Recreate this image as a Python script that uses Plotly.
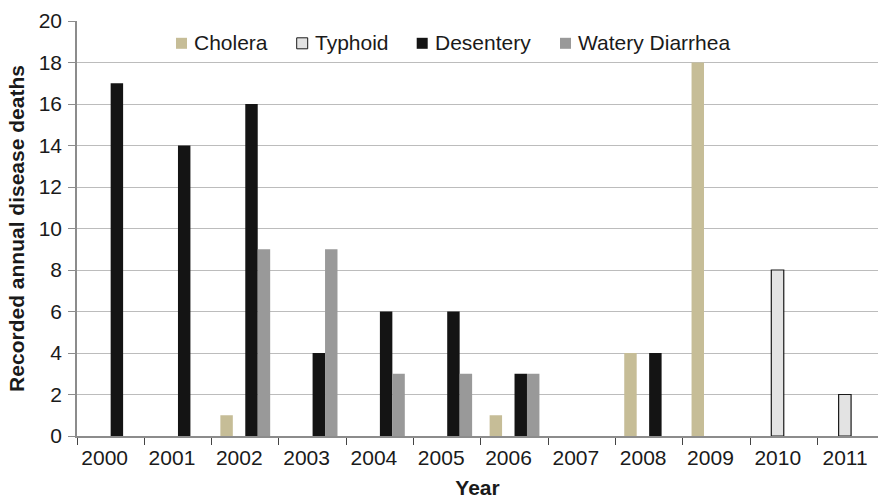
import plotly.graph_objects as go

years = ["2000", "2001", "2002", "2003", "2004", "2005",
         "2006", "2007", "2008", "2009", "2010", "2011"]
cholera = [None, None, 1, None, None, None, 1, None, 4, 18, None, None]
typhoid = [None, None, None, None, None, None, None, None, None, None, 8, 2]
desentery = [17, 14, 16, 4, 6, 6, 3, None, 4, None, None, None]
watery_diarrhea = [None, None, 9, 9, 3, 3, 3, None, None, None, None, None]

series = [
    ("Cholera", cholera, "#c6bd97", None),
    ("Typhoid", typhoid, "#e3e3e3", "#1a1a1a"),
    ("Desentery", desentery, "#141414", None),
    ("Watery Diarrhea", watery_diarrhea, "#999999", None),
]

FONT = "Liberation Sans, Arial, Helvetica, sans-serif"
GRID = "#bcbcbc"
AXIS = "#8c8c8c"
TEXT = "#1a1a1a"

W, H = 878, 500
L, R, T, B = 77, 0, 21, 64
PW, PH = W - L - R, H - T - B


def px_x(px):
    return (px - L) / PW


def px_y(py):
    return (H - B - py) / PH


fig = go.Figure()
for name, vals, fill, edge in series:
    fig.add_trace(go.Bar(
        name=name, x=years, y=vals, showlegend=False,
        marker=dict(color=fill,
                    line=dict(color=edge or fill, width=1.2 if edge else 0)),
    ))

# Legend row drawn as key squares plus labels across the top of the plot
key_left = [176, 296.7, 416.7, 560]
key_size = 11
key_mid_y = 43.3
for (name, _, fill, edge), kx in zip(series, key_left):
    fig.add_shape(
        type="rect", xref="paper", yref="paper",
        x0=px_x(kx), x1=px_x(kx + key_size),
        y0=px_y(key_mid_y + key_size / 2), y1=px_y(key_mid_y - key_size / 2),
        fillcolor=fill,
        line=dict(color=edge or fill, width=1 if edge else 0),
    )
    fig.add_annotation(
        xref="paper", yref="paper", x=px_x(kx + key_size + 6), y=px_y(key_mid_y - 0.8),
        xanchor="left", yanchor="middle", text=name, showarrow=False,
        borderpad=0, font=dict(size=21, color=TEXT, family=FONT),
    )

fig.update_layout(
    width=W, height=H,
    margin=dict(l=L, r=R, t=T, b=B, autoexpand=False),
    paper_bgcolor="white", plot_bgcolor="white",
    barmode="group", bargap=0.26, bargroupgap=0,
    font=dict(family=FONT, size=21, color=TEXT),
    showlegend=False,
)
fig.update_xaxes(
    type="category", range=[-0.5, 11.4],
    showline=True, linecolor=AXIS, linewidth=1.5,
    ticks="outside", tickson="boundaries", ticklen=7, tickcolor="#444", tickwidth=1.2,
    ticklabelshift=-6, ticklabelstandoff=2,
    showgrid=False, automargin=False,
    title=dict(text="<b>Year</b>", font=dict(size=21), standoff=12),
    tickfont=dict(size=21),
)
fig.update_yaxes(
    range=[0, 20], dtick=2, tick0=0,
    showline=True, linecolor=AXIS, linewidth=1.5,
    ticks="outside", ticklen=7, tickcolor=AXIS,
    ticklabelstandoff=2, automargin=False,
    showgrid=True, gridcolor=GRID, gridwidth=1.2, zeroline=False,
    title=dict(text="<b>Recorded annual disease deaths</b>", font=dict(size=21), standoff=8),
    tickfont=dict(size=21),
)

fig.write_html("out.html")
